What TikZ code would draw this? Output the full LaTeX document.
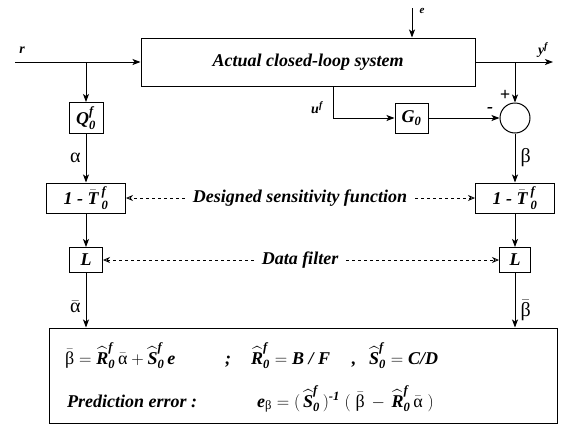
\documentclass[tikz,border=0pt]{standalone}
\usepackage{amsmath, amssymb}
\usepackage{fontspec}
\setmainfont{Liberation Serif}
\usepackage{tikz}
\usetikzlibrary{positioning,arrows.meta}
\newcommand{\bi}[1]{\text{\bfseries\itshape #1}}
\newcommand{\gal}{\textnormal{α}}
\newcommand{\gbe}{\textnormal{β}}
\tikzset{
  sig/.style={-{Stealth[length=8pt, width=6pt, inset=2pt]}, line width=1pt},
  dsh/.style={-{Stealth[open, length=7pt, width=6pt]}, dashed, line width=0.8pt},
  blk/.style={draw, line width=1pt, minimum height=30pt, inner sep=2pt, align=center},
  lbl/.style={font=\fontsize{18}{20}\selectfont\bfseries\itshape, inner sep=1pt},
  slbl/.style={font=\fontsize{14}{16}\selectfont\bfseries\itshape, inner sep=1pt},
  glbl/.style={font=\fontsize{20}{22}\selectfont, inner sep=1pt}
}

\begin{document}
\begin{tikzpicture}[x=1pt, y=-1pt]
      \useasboundingbox (0,0) rectangle (566,429);
      % main loop
      \node[blk, minimum width=334pt, minimum height=48pt, lbl] (sys) at (308,62) {Actual closed-loop system};
      \coordinate (rin) at (15,62);
      \coordinate (rb) at (86,62);
      \coordinate (yout) at (553,62);
      \coordinate (yb) at (515,62);
      \coordinate (ein) at (412,8);
      \coordinate (ub) at (333,86);
      \node[slbl] (rl) at (22,50) {r};
      \node[slbl, font=\fontsize{11}{12}\selectfont\bfseries\itshape] (el) at (422,11) {e};
      \node[slbl] (yl) at (543,50) {$\bi{y}^{\bi{f}}$};
      \node[slbl] (ul) at (317,108) {$\bi{u}^{\bi{f}}$};
      \node[blk, minimum width=34pt, minimum height=31pt, lbl] (Q) at (86,118) {$\bi{Q}^{\bi{f}}_{\bi{0}}$};
      \node[blk, minimum width=33pt, lbl] (G) at (411.5,118) {$\bi{G}_{\bi{0}}$};
      \node[draw, circle, line width=1pt, minimum size=30pt] (sum) at (515,118) {};
      \node[lbl] (plus) at (505,95) {+};
      \node[lbl] (minus) at (490,110) {-};
      \draw[sig] (rin) -- (sys);
      \draw[sig] (sys.east) -- (yout);
      \draw[sig] (ein) -- (ein |- sys.north);
      \draw[sig] (rb) -- (Q);
      \draw[sig] (ub) |- (G);
      \draw[sig] (G) -- (sum);
      \draw[sig] (yb) -- (sum);
      % sensitivity and filter blocks
      \node[blk, minimum width=79pt, lbl] (T1) at (86,198) {$\bi{1 - }\bar{\bi{T}}\,^{\bi{f}}_{\bi{0}}$};
      \node[blk, minimum width=79pt, lbl] (T2) at (515,198) {$\bi{1 - }\bar{\bi{T}}\,^{\bi{f}}_{\bi{0}}$};
      \node[blk, minimum width=33pt, minimum height=25pt, lbl] (L1) at (86,260) {L};
      \node[blk, minimum width=31pt, minimum height=25pt, lbl] (L2) at (515,260) {L};
      \draw[sig] (Q) -- node[glbl, left=4pt] (al) {α} (T1);
      \draw[sig] (sum) -- node[glbl, right=4pt] (bl) {β} (T2);
      \draw[sig] (T1) -- (L1);
      \draw[sig] (T2) -- (L2);
      \node[lbl, inner sep=8pt] (dsf) at (300,198) {Designed sensitivity function};
      \node[lbl, inner sep=8pt] (df) at (300,260) {Data filter};
      \draw[dsh] (dsf) -- (T1);
      \draw[dsh] (dsf) -- (T2);
      \draw[dsh] (df) -- (L1);
      \draw[dsh] (df) -- (L2);
      % estimation block
      \node[draw, line width=1pt, minimum width=508pt, minimum height=95pt] (est) at (303,375.5) {};
      \draw[sig] (L1) -- node[glbl, left=4pt, pos=0.62] (abl) {$\bar{\gal}$} (L1 |- est.north);
      \draw[sig] (L2) -- node[glbl, right=4pt, pos=0.68] (bbl) {$\bar{\gbe}$} (L2 |- est.north);
      \node[lbl, anchor=base west] (eq1) at (64,364) {$\bar{\gbe} = \widehat{\bi{R}}^{\bi{f}}_{\bi{0}}\,\bar{\gal} + \widehat{\bi{S}}^{\bi{f}}_{\bi{0}}\,\bi{e}$};
      \node[lbl, anchor=base] (semi) at (228,364) {;};
      \node[lbl, anchor=base west] (eq2) at (250,364) {$\widehat{\bi{R}}^{\bi{f}}_{\bi{0}} = \bi{B / F}$};
      \node[lbl, anchor=base] (comma) at (354,364) {,};
      \node[lbl, anchor=base west] (eq4) at (368,364) {$\widehat{\bi{S}}^{\bi{f}}_{\bi{0}} = \bi{C/D}$};
      \node[lbl, anchor=base west] (pe) at (66,407) {Prediction error :};
      \node[lbl, anchor=base west] (eq3) at (256,407) {$\bi{e}_{\gbe} = (\,\widehat{\bi{S}}^{\bi{f}}_{\bi{0}}\,)^{\bi{-1}}\;(\;\bar{\gbe} \,-\, \widehat{\bi{R}}^{\bi{f}}_{\bi{0}}\,\bar{\gal}\;)$};
    \end{tikzpicture}
\end{document}
